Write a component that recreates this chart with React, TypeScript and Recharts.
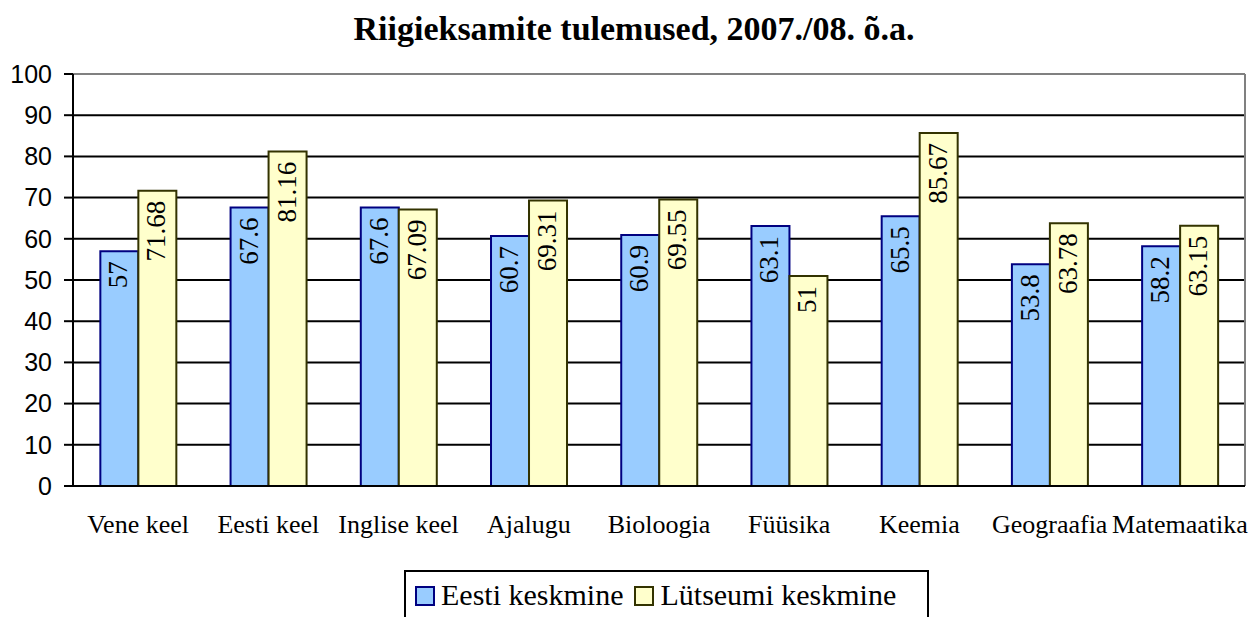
import React from 'react'
import {
  BarChart, Bar, XAxis, YAxis, CartesianGrid, LabelList,
} from 'recharts'

const subjects = ['Vene keel', 'Eesti keel', 'Inglise keel', 'Ajalugu', 'Bioloogia', 'Füüsika', 'Keemia', 'Geograafia', 'Matemaatika']
const eestiKeskmine = [57, 67.6, 67.6, 60.7, 60.9, 63.1, 65.5, 53.8, 58.2]
const lutseumiKeskmine = [71.68, 81.16, 67.09, 69.31, 69.55, 51, 85.67, 63.78, 63.15]
const yTicks = [0, 10, 20, 30, 40, 50, 60, 70, 80, 90, 100]
const boundaryTicks = [0, 1, 2, 3, 4, 5, 6, 7, 8, 9]

const SERIES = [
  { key: 'eesti', name: 'Eesti keskmine', fill: '#99CCFF', stroke: '#000080' },
  { key: 'lutseum', name: 'Lütseumi keskmine', fill: '#FFFFCC', stroke: '#333300' },
]

const data = subjects.map((s, i) => ({
  subject: s,
  idx: i + 0.5,
  eesti: eestiKeskmine[i],
  lutseum: lutseumiKeskmine[i],
}))

const SERIF = "'Liberation Serif', 'Times New Roman', serif"
const SANS = "'Liberation Sans', Arial, sans-serif"

function RotatedLabel(props: any) {
  const { x, y, width, value } = props
  const cx = x + width / 2 + 8
  const cy = y + 10
  return (
    <text x={cx} y={cy} transform={`rotate(-90 ${cx} ${cy})`} textAnchor="end"
      style={{ fontFamily: SERIF, fontSize: 27 }} fill="#000">
      {value}
    </text>
  )
}

// legend drawn as a plain box under the chart
function LegendBox() {
  return (
    <div style={{
      position: 'absolute', top: 570, left: 404,
      border: '2px solid #000', width: 525, height: 60, boxSizing: 'border-box',
      display: 'flex', alignItems: 'flex-start', paddingLeft: 9, paddingTop: 6,
      background: '#fff', whiteSpace: 'nowrap',
      fontFamily: SERIF, fontSize: 30, lineHeight: '34px', color: '#000',
    }}>
      {SERIES.map((s, i) => (
        <div key={s.key} style={{ display: 'flex', alignItems: 'center', marginRight: i === 0 ? 11 : 0 }}>
          <span style={{
            display: 'inline-block', width: 16, height: 16, background: s.fill,
            border: `2px solid ${s.stroke}`, marginRight: 6, marginTop: 2,
          }} />
          <span>{s.name}</span>
        </div>
      ))}
    </div>
  )
}

export default function App() {
  return (
    <div style={{ position: 'absolute', left: 0, top: 0, width: 1252, height: 617, background: '#fff', overflow: 'hidden' }}>
      <div style={{
        position: 'absolute', top: 12, left: 0, width: 1268, textAlign: 'center',
        fontFamily: SERIF, fontWeight: 'bold', fontSize: 34, lineHeight: '34px',
      }}>
        Riigieksamite tulemused, 2007./08. õ.a.
      </div>
      <BarChart width={1252} height={617} data={data}
        margin={{ top: 74, right: 7, left: 0, bottom: 91 }}
        barCategoryGap="21%" barGap={0}>
        <CartesianGrid vertical={false} stroke="#000" strokeWidth={2} />
        <CartesianGrid horizontal={false} stroke="#808080" strokeWidth={2}
          verticalCoordinatesGenerator={({ offset }: any) => [offset.left + offset.width]} />
        <CartesianGrid vertical={false} stroke="#808080" strokeWidth={2}
          horizontalCoordinatesGenerator={({ offset }: any) => [offset.top]} />
        <XAxis xAxisId="b" type="number" dataKey="idx" domain={[0, 9]} ticks={boundaryTicks}
          height={0} axisLine={false} tickLine={{ stroke: '#000', strokeWidth: 2 }} tickSize={8}
          tick={() => <g />} allowDataOverflow />
        <XAxis dataKey="subject" interval={0} tickLine={false} tickSize={6} tickMargin={23}
          axisLine={{ stroke: '#000', strokeWidth: 2 }}
          tick={{ style: { fontFamily: SERIF, fontSize: 26 }, fill: '#000' }} height={40} />
        <YAxis domain={[0, 100]} ticks={yTicks} width={73} interval={0}
          axisLine={{ stroke: '#000', strokeWidth: 2 }}
          tickLine={{ stroke: '#000', strokeWidth: 2 }} tickSize={9} tickMargin={12}
          tick={{ style: { fontFamily: SANS, fontSize: 25 }, fill: '#000' }} />
        {SERIES.map((s) => (
          <Bar key={s.key} dataKey={s.key} name={s.name} fill={s.fill} stroke={s.stroke}
            strokeWidth={2} isAnimationActive={false}>
            <LabelList dataKey={s.key} content={RotatedLabel} />
          </Bar>
        ))}
      </BarChart>
      <LegendBox />
    </div>
  )
}
